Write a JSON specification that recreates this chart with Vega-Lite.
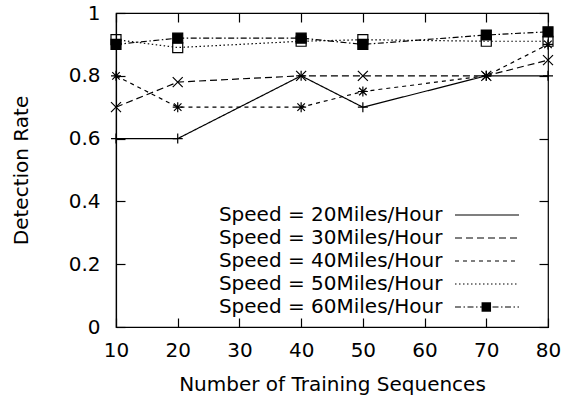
{
  "$schema": "https://vega.github.io/schema/vega-lite/v6.json",
  "width": 432,
  "height": 314,
  "autosize": {"type": "none"},
  "padding": {"left": 116, "top": 13, "right": 23, "bottom": 71},
  "background": "white",
  "config": {
    "font": "DejaVu Sans",
    "view": {"stroke": "black", "strokeWidth": 1.2},
    "axis": {
      "grid": false,
      "domainColor": "black",
      "domainWidth": 1.2,
      "tickColor": "black",
      "tickWidth": 1.2,
      "tickSize": -9,
      "labelFlush": false,
      "labelFont": "DejaVu Sans",
      "labelFontSize": 20,
      "labelColor": "black",
      "titleFont": "DejaVu Sans",
      "titleFontSize": 20,
      "titleFontWeight": "normal",
      "titleColor": "black"
    },
    "legend": {"padding": 0, "labelFont": "DejaVu Sans", "labelFontSize": 20, "labelColor": "black"}
  },
  "data": {
    "values": [
      {"n": 10, "rate": 0.6, "series": "Speed = 20Miles/Hour"},
      {"n": 20, "rate": 0.6, "series": "Speed = 20Miles/Hour"},
      {"n": 40, "rate": 0.8, "series": "Speed = 20Miles/Hour"},
      {"n": 50, "rate": 0.7, "series": "Speed = 20Miles/Hour"},
      {"n": 70, "rate": 0.8, "series": "Speed = 20Miles/Hour"},
      {"n": 80, "rate": 0.8, "series": "Speed = 20Miles/Hour"},
      {"n": 10, "rate": 0.7, "series": "Speed = 30Miles/Hour"},
      {"n": 20, "rate": 0.78, "series": "Speed = 30Miles/Hour"},
      {"n": 40, "rate": 0.8, "series": "Speed = 30Miles/Hour"},
      {"n": 50, "rate": 0.8, "series": "Speed = 30Miles/Hour"},
      {"n": 70, "rate": 0.8, "series": "Speed = 30Miles/Hour"},
      {"n": 80, "rate": 0.85, "series": "Speed = 30Miles/Hour"},
      {"n": 10, "rate": 0.8, "series": "Speed = 40Miles/Hour"},
      {"n": 20, "rate": 0.7, "series": "Speed = 40Miles/Hour"},
      {"n": 40, "rate": 0.7, "series": "Speed = 40Miles/Hour"},
      {"n": 50, "rate": 0.75, "series": "Speed = 40Miles/Hour"},
      {"n": 70, "rate": 0.8, "series": "Speed = 40Miles/Hour"},
      {"n": 80, "rate": 0.9, "series": "Speed = 40Miles/Hour"},
      {"n": 10, "rate": 0.915, "series": "Speed = 50Miles/Hour"},
      {"n": 20, "rate": 0.89, "series": "Speed = 50Miles/Hour"},
      {"n": 40, "rate": 0.91, "series": "Speed = 50Miles/Hour"},
      {"n": 50, "rate": 0.915, "series": "Speed = 50Miles/Hour"},
      {"n": 70, "rate": 0.91, "series": "Speed = 50Miles/Hour"},
      {"n": 80, "rate": 0.91, "series": "Speed = 50Miles/Hour"},
      {"n": 10, "rate": 0.9, "series": "Speed = 60Miles/Hour"},
      {"n": 20, "rate": 0.92, "series": "Speed = 60Miles/Hour"},
      {"n": 40, "rate": 0.92, "series": "Speed = 60Miles/Hour"},
      {"n": 50, "rate": 0.9, "series": "Speed = 60Miles/Hour"},
      {"n": 70, "rate": 0.93, "series": "Speed = 60Miles/Hour"},
      {"n": 80, "rate": 0.94, "series": "Speed = 60Miles/Hour"}
    ]
  },
  "layer": [
    {
      "mark": {"type": "line", "stroke": "black", "strokeWidth": 1.2},
      "encoding": {
        "x": {
          "field": "n", "type": "quantitative",
          "scale": {"domain": [10, 80], "nice": false, "zero": false},
          "axis": {"orient": "bottom", "values": [10, 20, 30, 40, 50, 60, 70, 80], "title": "Number of Training Sequences", "labelPadding": 22, "titlePadding": 14}
        },
        "y": {
          "field": "rate", "type": "quantitative",
          "scale": {"domain": [0, 1], "nice": false},
          "axis": {"orient": "left", "values": [0, 0.2, 0.4, 0.6, 0.8, 1], "format": "~g", "title": "Detection Rate", "labelPadding": 25, "titlePadding": 37}
        },
        "strokeDash": {
          "field": "series", "type": "nominal",
          "scale": {
            "domain": ["Speed = 20Miles/Hour", "Speed = 30Miles/Hour", "Speed = 40Miles/Hour", "Speed = 50Miles/Hour", "Speed = 60Miles/Hour"],
            "range": [[1, 0], [7, 4], [4, 4], [1.5, 2.5], [6, 2.5, 1.5, 2.5]]
          },
          "legend": {
            "orient": "none", "legendX": 300, "legendY": 192, "title": null,
            "symbolType": "M-8,0H8", "symbolSize": 64, "symbolStrokeColor": "black", "symbolStrokeWidth": 1.2,
            "labelAlign": "right", "labelOffset": -54.5, "symbolOffset": 61, "labelLimit": 400, "rowPadding": 3
          }
        }
      }
    },
    {
      "mark": {"type": "point", "filled": false, "color": "black", "strokeWidth": 1.2, "size": 100, "opacity": 1},
      "encoding": {
        "x": {"field": "n", "type": "quantitative", "axis": {"orient": "top", "labels": false, "title": null, "domain": false, "values": [10, 20, 30, 40, 50, 60, 70, 80]}},
        "y": {"field": "rate", "type": "quantitative", "axis": {"orient": "right", "labels": false, "title": null, "domain": false, "values": [0, 0.2, 0.4, 0.6, 0.8, 1]}},
        "shape": {
          "field": "series", "type": "nominal",
          "scale": {"range": ["M-1,0H1M0,-1V1", "M-1,-1L1,1M-1,1L1,-1", "M-1,0H1M0,-1V1M-0.75,-0.75L0.75,0.75M-0.75,0.75L0.75,-0.75", "square", "square"]},
          "legend": {
            "orient": "none", "legendX": 300, "legendY": 192, "title": null,
            "symbolSize": 90, "symbolStrokeColor": "black", "symbolStrokeWidth": 1.2,
            "labelAlign": "right", "labelOffset": -54.5, "symbolOffset": 60.3, "labelLimit": 400, "rowPadding": 3, "labelOpacity": 0,
            "encode": {"symbols": {"update": {
              "fill": {"signal": "datum.value === 'Speed = 60Miles/Hour' ? 'black' : 'white'"},
              "stroke": {"value": "black"},
              "strokeWidth": {"value": 1.2},
              "opacity": {"value": 1}
            }}}
          }
        },
        "fill": {
          "field": "series", "type": "nominal",
          "scale": {"range": ["transparent", "transparent", "transparent", "transparent", "black"]},
          "legend": null
        }
      }
    }
  ]
}
